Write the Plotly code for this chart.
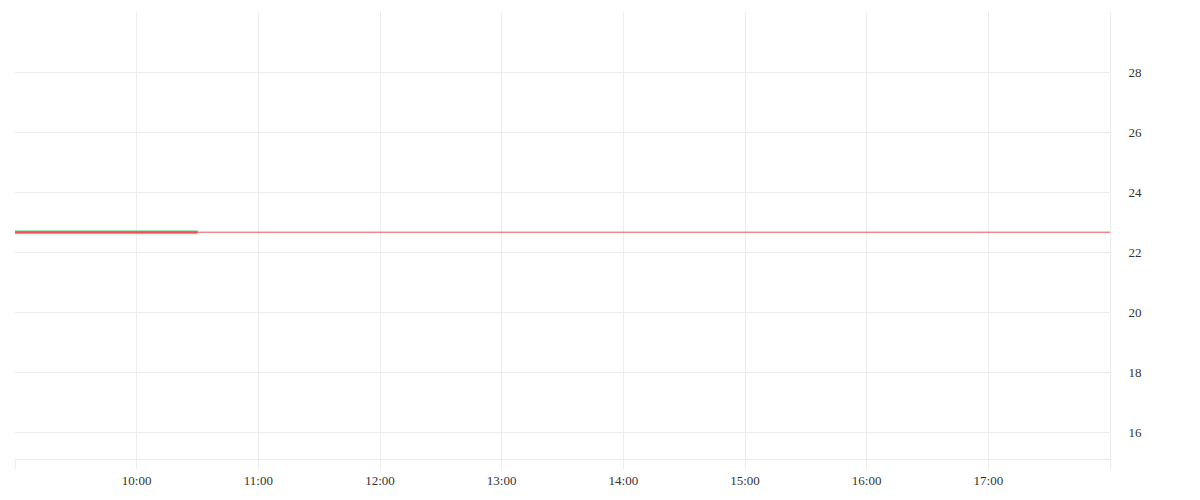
import plotly.graph_objects as go

DAY = "2024-01-02"
times = ["09:00", "09:15", "09:30", "09:45", "10:00", "10:15", "10:30"]
prices = [22.66, 22.66, 22.66, 22.66, 22.66, 22.66, 22.66]
hour_ticks = ["09:00", "10:00", "11:00", "12:00", "13:00", "14:00", "15:00", "16:00", "17:00", "18:00"]
hour_labels = ["", "10:00", "11:00", "12:00", "13:00", "14:00", "15:00", "16:00", "17:00", ""]
y_ticks = [16, 18, 20, 22, 24, 26, 28]

x = [f"{DAY} {t}" for t in times]
tickvals = [f"{DAY} {t}" for t in hour_ticks]

GRID = "#ececec"
fig = go.Figure()
fig.add_trace(go.Scatter(x=x, y=prices, mode="lines",
                         line=dict(color="#93d6a4", width=4),
                         hoverinfo="skip", showlegend=False))
fig.add_trace(go.Scatter(x=x, y=prices, mode="lines",
                         line=dict(color="#f0505a", width=2),
                         showlegend=False))
fig.add_shape(type="line", xref="paper", x0=0, x1=1, yref="y",
              y0=prices[-1], y1=prices[-1],
              line=dict(color="#f0505a", width=1))

fig.update_layout(
    width=1200, height=500,
    margin=dict(l=7, r=98, t=4, b=49),
    paper_bgcolor="white", plot_bgcolor="white",
    font=dict(family="Liberation Serif", size=13, color="#333333"),
    showlegend=False,
    xaxis=dict(range=[f"{DAY} 09:00", f"{DAY} 18:00"],
               tickmode="array", tickvals=tickvals, ticktext=hour_labels,
               showgrid=True, gridcolor=GRID, gridwidth=1,
               showline=True, linecolor=GRID, linewidth=1,
               ticks="outside", ticklen=9, tickcolor=GRID, tickwidth=1,
               zeroline=False),
    yaxis=dict(range=[15.1, 30], side="right",
               tickmode="array", tickvals=y_ticks,
               showgrid=True, gridcolor=GRID, gridwidth=1,
               showline=True, linecolor=GRID, linewidth=1,
               ticks="outside", ticklen=15, tickcolor="rgba(0,0,0,0)",
               zeroline=False),
)

fig.write_html("out.html")
